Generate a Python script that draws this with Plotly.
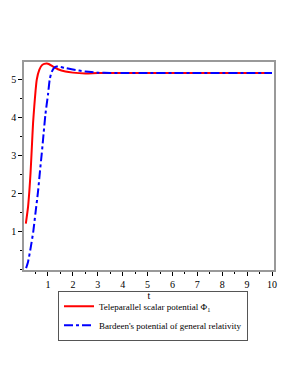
import plotly.graph_objects as go

t_red = [0.11, 0.2, 0.25, 0.3, 0.35, 0.4, 0.45, 0.5, 0.55, 0.65, 0.75, 0.85, 0.95, 1.05, 1.2, 1.4, 1.7, 2.0, 2.5, 3, 4, 5, 6, 7, 8, 9, 10]
phi_red = [1.2, 1.65, 2.05, 2.55, 3.2, 3.85, 4.3, 4.7, 5.0, 5.25, 5.37, 5.41, 5.42, 5.40, 5.34, 5.27, 5.21, 5.18, 5.16, 5.17, 5.17, 5.17, 5.17, 5.17, 5.17, 5.17, 5.17]

t_blue = [0.12, 0.2, 0.3, 0.41, 0.5, 0.6, 0.68, 0.75, 0.82, 0.9, 1.0, 1.07, 1.15, 1.25, 1.35, 1.5, 1.7, 2.0, 2.5, 3, 3.5, 4, 5, 6, 7, 8, 9, 10]
phi_blue = [0.03, 0.2, 0.55, 1.0, 1.5, 2.05, 2.6, 3.05, 3.55, 4.1, 4.6, 5.0, 5.2, 5.31, 5.34, 5.33, 5.3, 5.26, 5.21, 5.18, 5.17, 5.17, 5.17, 5.17, 5.17, 5.17, 5.17, 5.17]

x_ticks = [1, 2, 3, 4, 5, 6, 7, 8, 9, 10]
y_ticks = [1, 2, 3, 4, 5]

font = "Liberation Serif"

fig = go.Figure()
fig.add_trace(go.Scatter(x=t_red, y=phi_red, mode="lines", line=dict(color="#ff0000", width=2, shape="spline", smoothing=0.6),
                         name="Teleparallel scalar potential Φ<sub>1</sub>"))
fig.add_trace(go.Scatter(x=t_blue, y=phi_blue, mode="lines", line=dict(color="#0000ff", width=2, dash="dashdot", shape="spline", smoothing=0.6),
                         name="Bardeen's potential of general relativity"))

fig.update_layout(
    width=298, height=385,
    margin=dict(l=16, r=32, t=54, b=123, autoexpand=False),
    paper_bgcolor="white", plot_bgcolor="white",
    font=dict(family=font, size=10, color="black"),
    showlegend=True,
    legend=dict(x=0.136, y=-0.1, xanchor="left", yanchor="top", bordercolor="#555", borderwidth=1,
                bgcolor="white", font=dict(family=font, size=9), tracegroupgap=0, itemwidth=30),
    xaxis=dict(range=[0.036, 10.08], tickvals=x_ticks, ticks="outside", ticklen=4, tickcolor="black",
               showline=True, linecolor="#999", linewidth=1.5, mirror=True, showgrid=False, zeroline=False,
               automargin=False,
               minor=dict(dtick=0.5, tick0=0, ticks="outside", ticklen=2, tickcolor="black"),
               title=dict(text="t", standoff=0, font=dict(size=10))),
    yaxis=dict(range=[-0.02, 5.46], tickvals=y_ticks, ticks="outside", ticklen=4, tickcolor="black",
               showline=True, linecolor="#999", linewidth=1.5, mirror=True, showgrid=False, zeroline=False,
               automargin=False,
               minor=dict(dtick=0.5, tick0=0, ticks="outside", ticklen=2, tickcolor="black")),
)

fig.write_html("out.html")
